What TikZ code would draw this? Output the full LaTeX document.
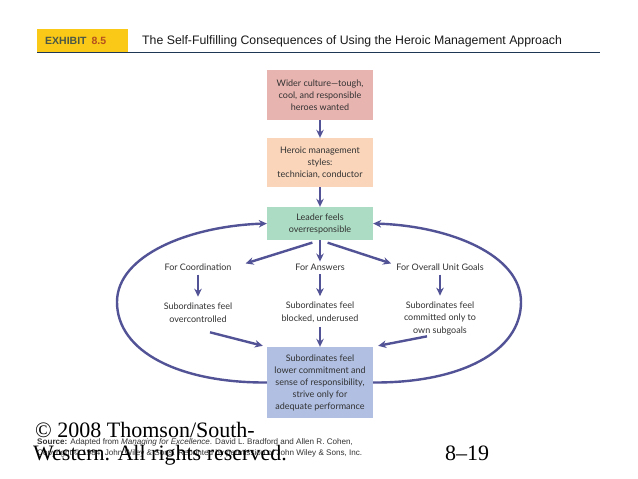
\documentclass[tikz,border=0pt]{standalone}
\usepackage{fontspec}
\setmainfont{Liberation Sans}
\newfontfamily\boxfont{Lato}
\newfontfamily\serifft{Liberation Serif}
\usetikzlibrary{arrows.meta,calc}
\definecolor{pinkbox}{RGB}{232,180,176}
\definecolor{peachbox}{RGB}{250,213,186}
\definecolor{greenbox}{RGB}{172,221,196}
\definecolor{bluebox}{RGB}{176,191,226}
\definecolor{arrowc}{RGB}{82,82,150}
\definecolor{exyellow}{RGB}{250,200,22}
\definecolor{navy}{RGB}{30,55,85}
\definecolor{txt}{RGB}{50,50,50}
\definecolor{exgray}{RGB}{75,88,70}
\definecolor{exorange}{RGB}{180,80,30}
\begin{document}
\begin{tikzpicture}[x=1pt,y=-1pt,
  box/.style={draw=none, minimum width=106pt, inner sep=0pt, align=center, text=txt, font=\boxfont\fontsize{9}{12}\selectfont},
  lbl/.style={inner sep=0pt, align=center, text=txt, font=\boxfont\fontsize{9}{12.5}\selectfont},
  arr/.style={draw=arrowc, line width=2.4pt, -{Stealth[length=8pt,width=7.5pt]}},
  foot/.style={anchor=base west, inner sep=0pt, font=\serifft\fontsize{22}{22}\selectfont},
  src/.style={anchor=base west, inner sep=0pt, text=black!80, font=\fontsize{8.1}{9}\selectfont}
]
\fill[white] (0,0) rectangle (638,479);
\useasboundingbox (0,0) rectangle (638,479);
% header
\fill[exyellow] (37,29) rectangle (128,52);
\node[anchor=west, inner sep=0pt, font=\bfseries\fontsize{10.5}{12}\selectfont] (exh) at (45,41) {\textcolor{exgray}{EXHIBIT}\hspace{5pt}\textcolor{exorange}{8.5}};
\node[anchor=west, inner sep=0pt, font=\fontsize{12.3}{14}\selectfont, text=black!90] (title) at (142,41) {The Self-Fulfilling Consequences of Using the Heroic Management Approach};
\draw[navy, line width=1pt] (37,52) -- (600,52);
% boxes
\node[box, fill=pinkbox, minimum height=50pt] (b1) at (320,95) {Wider culture—tough,\\cool, and responsible\\heroes wanted};
\node[box, fill=peachbox, minimum height=49pt] (b2) at (320,162.5) {Heroic management\\styles:\\technician, conductor};
\node[box, fill=greenbox, minimum height=33pt] (b3) at (320,223.5) {Leader feels\\overresponsible};
\node[box, fill=bluebox, minimum height=71pt] (b4) at (320,382.5) {Subordinates feel\\lower commitment and\\sense of responsibility,\\strive only for\\adequate performance};
% labels
\node[lbl] (coord) at (198,267) {For Coordination};
\node[lbl] (ans) at (320,267) {For Answers};
\node[lbl] (goals) at (440,267) {For Overall Unit Goals};
\node[lbl] (s1) at (198,312.5) {Subordinates feel\\overcontrolled};
\node[lbl] (s2) at (320,312.5) {Subordinates feel\\blocked, underused};
\node[lbl] (s3) at (440,318.5) {Subordinates feel\\committed only to\\own subgoals};
% arrows
\draw[arr] (b1) -- (b2);
\draw[arr] (b2) -- (b3);
\draw[arr, shorten >=2pt] (b3.south) -- (ans.north);
\draw[arr, shorten <=8pt] (b3.south) -- ([xshift=14pt]coord.north east);
\draw[arr, shorten <=8pt] (b3.south) -- ([xshift=-5pt]goals.north west);
\draw[arr, shorten <=4pt, shorten >=6pt] (coord.south) -- (s1.north);
\draw[arr, shorten <=4pt, shorten >=6pt] (ans.south) -- (s2.north);
\draw[arr, shorten <=4pt, shorten >=6pt] (goals.south) -- (s3.north);
\draw[arr, shorten <=4pt] (s2.south) -- (b4.north);
\draw[arr] ([xshift=12pt,yshift=-10pt]s1.south) -- ([xshift=-4pt,yshift=1pt]b4.north west);
\draw[arr] ([xshift=-13pt,yshift=-1pt]s3.south) -- ([xshift=5pt,yshift=1pt]b4.north east);
% feedback loops
\draw[arr] (b4.west) .. controls (180,383) and (117,352) .. (117,302) .. controls (117,255) and (190,226) .. (b3.west);
\draw[arr] (b4.east) .. controls (460,383) and (521,352) .. (521,302) .. controls (521,255) and (450,226) .. (b3.east);
% footer
\node[src] (src1) at (37,444) {\textbf{Source:} Adapted from \textit{Managing for Excellence}. David L. Bradford and Allen R. Cohen,};
\node[src] (src2) at (37,455) {Copyright © 1984, John Wiley \& Sons. Reprinted by permission of John Wiley \& Sons, Inc.};
\node[foot] (c1) at (35,437) {© 2008 Thomson/South-};
\node[foot] (c2) at (33,460) {Western. All rights reserved.};
\node[foot] (pg) at (445,460) {8–19};
\end{tikzpicture}
\end{document}
